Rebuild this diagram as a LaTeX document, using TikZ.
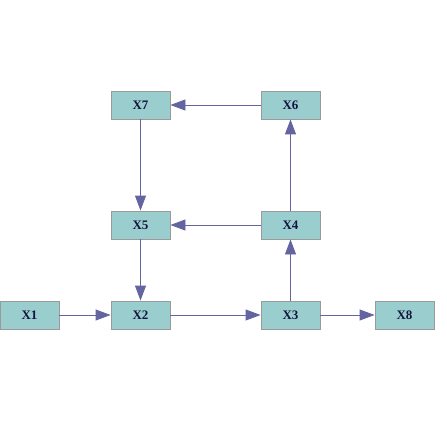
\documentclass[tikz,border=0pt]{standalone}
\usepackage{fontspec}
\setmainfont{Liberation Serif}
\usetikzlibrary{arrows.meta}
\definecolor{boxfill}{HTML}{9ACECE}
\definecolor{boxline}{HTML}{9A9A9A}
\definecolor{edgecol}{HTML}{6464A0}
\definecolor{textcol}{HTML}{141440}
\begin{document}
\begin{tikzpicture}[x=1pt,y=-1pt,
  vbox/.style={draw=boxline, fill=boxfill, line width=0.9pt, minimum width=59pt, minimum height=28pt,
    inner sep=0pt, font=\fontsize{13}{13}\selectfont\bfseries, text=textcol},
  link/.style={draw=edgecol, line width=0.9pt, -{Triangle[length=15pt,width=11pt]}}]
  \useasboundingbox (0,0) rectangle (446,446);
  \fill[white] (0,0) rectangle (446,446);
  \node[vbox] (x7) at (140.5,105) {X7};
  \node[vbox] (x6) at (290.5,105) {X6};
  \node[vbox] (x5) at (140.5,225) {X5};
  \node[vbox] (x4) at (290.5,225) {X4};
  \node[vbox] (x1) at (29.5,315) {X1};
  \node[vbox] (x2) at (140.5,315) {X2};
  \node[vbox] (x3) at (290.5,315) {X3};
  \node[vbox] (x8) at (404.5,315) {X8};
  \draw[link] (x1) -- (x2);
  \draw[link] (x2) -- (x3);
  \draw[link] (x3) -- (x8);
  \draw[link] (x3) -- (x4);
  \draw[link] (x4) -- (x6);
  \draw[link] (x6) -- (x7);
  \draw[link] (x4) -- (x5);
  \draw[link] (x7) -- (x5);
  \draw[link] (x5) -- (x2);
\end{tikzpicture}
\end{document}
